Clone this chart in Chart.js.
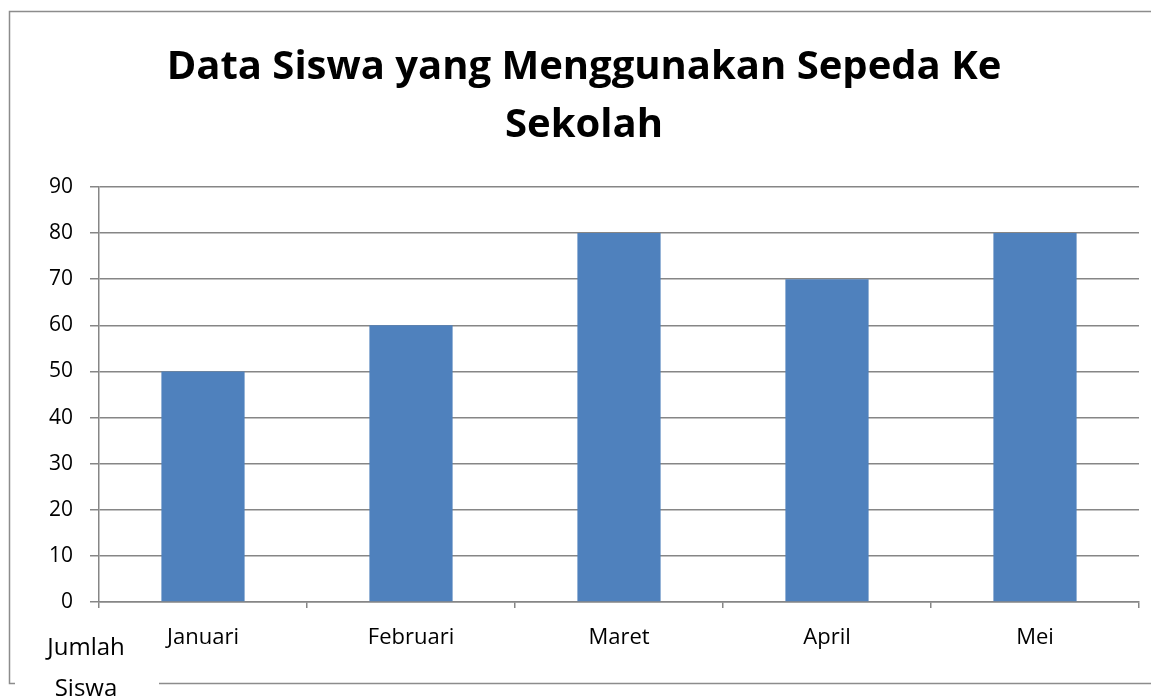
<!DOCTYPE html>
<html>
<head>
<meta charset="utf-8">
<script src="https://cdn.jsdelivr.net/npm/chart.js@4"></script>
<style>
    html, body { margin: 0; padding: 0; background: #ffffff; }
    #wrap { width: 1151px; height: 700px; position: relative; }
</style>
</head>
<body>
<div id="wrap"><canvas id="chart"></canvas></div>
<script>
// Data
const months = ['Januari', 'Februari', 'Maret', 'April', 'Mei'];
const students = [50, 60, 80, 70, 80];
const legendLines = ['Jumlah', 'Siswa'];
const titleLines = ['Data Siswa yang Menggunakan Sepeda Ke', 'Sekolah'];

const fontFamily = '"Open Sans", "Noto Sans", sans-serif';
const gridColor = '#868686';

// Frame around the chart plus the clipped legend in the lower left corner
const framePlugin = {
    id: 'frame',
    afterDraw(chart) {
        const ctx = chart.ctx;
        ctx.save();
        ctx.strokeStyle = '#8c8c8c';
        ctx.lineWidth = 1.5;
        ctx.beginPath();
        ctx.moveTo(1151, 11.5);
        ctx.lineTo(9.5, 11.5);
        ctx.lineTo(9.5, 683.5);
        ctx.lineTo(15, 683.5);
        ctx.moveTo(159, 683.5);
        ctx.lineTo(1151, 683.5);
        ctx.stroke();

        ctx.fillStyle = '#000000';
        ctx.font = '24px ' + fontFamily;
        ctx.textAlign = 'center';
        ctx.textBaseline = 'middle';
        ctx.fillText(legendLines[0], 86, 648);
        ctx.fillText(legendLines[1], 86, 689);
        ctx.restore();
    }
};

new Chart(document.getElementById('chart'), {
    type: 'bar',
    data: {
        labels: months,
        datasets: [{
            label: legendLines.join(' '),
            data: students,
            backgroundColor: '#4f81bd',
            borderWidth: 0,
            barPercentage: 0.4,
            categoryPercentage: 1
        }]
    },
    options: {
        responsive: true,
        maintainAspectRatio: false,
        animation: false,
        layout: {
            padding: { left: 29, right: 12, top: 0, bottom: 38 }
        },
        plugins: {
            legend: { display: false },
            tooltip: { enabled: false },
            title: {
                display: true,
                text: titleLines,
                color: '#000000',
                font: { family: fontFamily, size: 40, weight: 'bold', lineHeight: 1.45 },
                padding: { top: 39, bottom: 32 }
            }
        },
        scales: {
            x: {
                afterFit: (scale) => { scale.height = 60; },
                grid: {
                    drawOnChartArea: false,
                    drawTicks: true,
                    tickLength: 6,
                    color: gridColor,
                    lineWidth: 1.5
                },
                border: { color: gridColor, width: 1.5 },
                ticks: {
                    color: '#000000',
                    font: { family: fontFamily, size: 22 },
                    padding: 17
                }
            },
            y: {
                min: 0,
                max: 90,
                afterFit: (scale) => { scale.width = 70; },
                grid: {
                    color: gridColor,
                    lineWidth: 1.5,
                    tickLength: 9
                },
                border: { color: gridColor, width: 1.5 },
                ticks: {
                    stepSize: 10,
                    color: '#000000',
                    font: { family: fontFamily, size: 21 },
                    padding: 17
                }
            }
        }
    },
    plugins: [framePlugin]
});
</script>
</body>
</html>
